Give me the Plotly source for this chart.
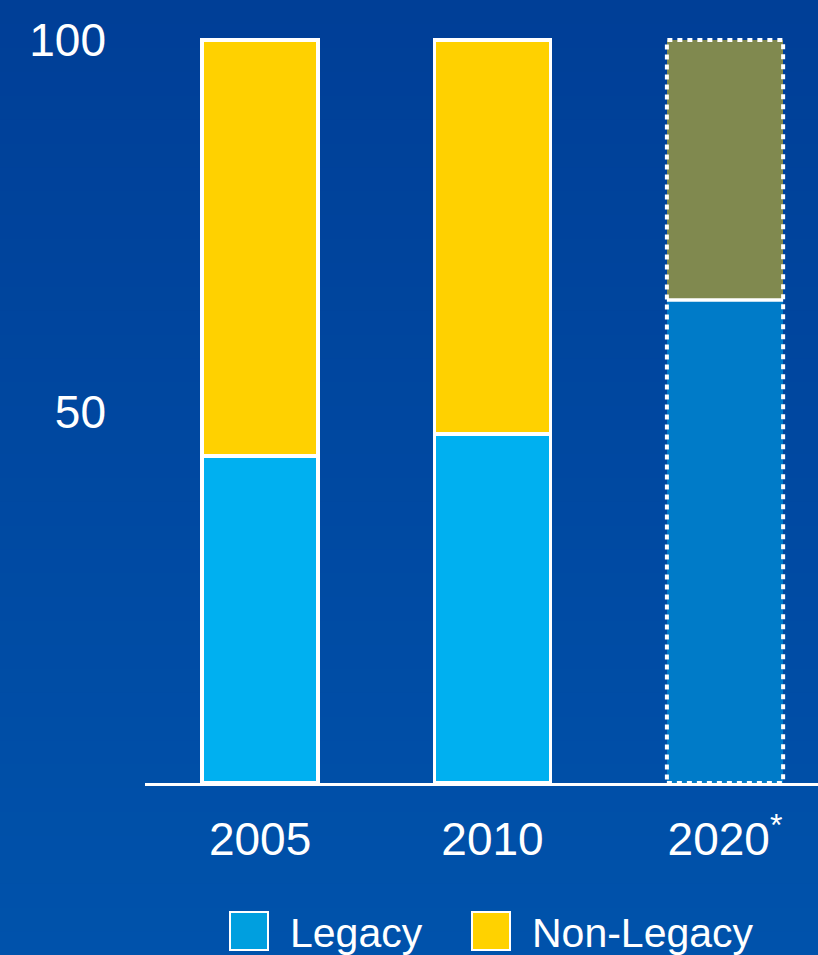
import plotly.graph_objects as go

# ---- data ----
years = ["2005", "2010", "2020"]
year_labels = ["2005", "2010", "2020<sup>*</sup>"]
legacy = [44, 47, 65]
non_legacy = [56, 53, 35]
y_ticks = [50, 100]

# ---- styling ----
W, H = 818, 955
ML, MR, MT, MB = 145, 0, 30, 172
FONT = "Liberation Sans, Arial, sans-serif"
legacy_colors = ["#00b0f0", "#00b0f0", "#007bc8"]
non_legacy_colors = ["#ffd100", "#ffd100", "#80894f"]
line_widths = [3.5, 3.5, 0]
projected = 2  # index of the projected bar

plot_w = W - ML - MR
plot_h = H - MT - MB


def px_x(px):
    return (px - ML) / plot_w


def px_y(py):
    return (H - MB - py) / plot_h


fig = go.Figure()
fig.add_trace(go.Bar(
    x=list(range(len(years))), y=legacy, name="Legacy",
    marker=dict(color=legacy_colors, line=dict(color="white", width=line_widths)),
))
fig.add_trace(go.Bar(
    x=list(range(len(years))), y=non_legacy, name="Non-Legacy",
    marker=dict(color=non_legacy_colors, line=dict(color="white", width=line_widths)),
))

shapes = []
# background gradient bands
top = (0x00, 0x3f, 0x97)
bot = (0x00, 0x52, 0xab)
n = 40
for i in range(n):
    t = i / (n - 1)
    c = tuple(round(top[k] + (bot[k] - top[k]) * t) for k in range(3))
    shapes.append(dict(type="rect", xref="paper", yref="paper",
                       x0=px_x(0), x1=px_x(W),
                       y0=px_y(H * (i + 1) / n + 1), y1=px_y(H * i / n),
                       fillcolor="rgb(%d,%d,%d)" % c, line=dict(width=0), layer="below"))

# projected bar: divider line and dotted outline
half = 0.25
total = legacy[projected] + non_legacy[projected]
shapes.append(dict(type="line", xref="x", yref="y",
                   x0=projected - half, x1=projected + half,
                   y0=legacy[projected], y1=legacy[projected],
                   line=dict(color="white", width=3.5)))
shapes.append(dict(type="rect", xref="x", yref="y",
                   x0=projected - half, x1=projected + half, y0=0, y1=total,
                   line=dict(color="white", width=4, dash="5px,5px")))

# custom legend
legend_items = [("Legacy", "#009fdf", 230), ("Non-Legacy", "#ffd200", 472)]
annotations = []
for label, col, x0 in legend_items:
    shapes.append(dict(type="rect", xref="paper", yref="paper",
                       x0=px_x(x0), x1=px_x(x0 + 38), y0=px_y(950), y1=px_y(912),
                       fillcolor=col, line=dict(color="white", width=2)))
    annotations.append(dict(xref="paper", yref="paper", x=px_x(x0 + 58), y=px_y(933),
                            xanchor="left", yanchor="middle", showarrow=False,
                            text=label, font=dict(family=FONT, size=41, color="white")))

fig.update_layout(
    width=W, height=H,
    margin=dict(l=ML, r=MR, t=MT, b=MB),
    paper_bgcolor="#0047a0", plot_bgcolor="rgba(0,0,0,0)",
    barmode="stack", bargap=0.5, showlegend=False,
    shapes=shapes, annotations=annotations,
    font=dict(family=FONT, color="white"),
    xaxis=dict(range=[-0.495, 2.4], tickvals=list(range(len(years))), ticktext=year_labels,
               showline=True, linecolor="white", linewidth=3, showgrid=False,
               zeroline=False, ticks="", tickfont=dict(size=46, color="white"),
               ticklabelstandoff=14, fixedrange=True),
    yaxis=dict(range=[0, plot_h / 7.43], tickvals=y_ticks, showgrid=False, zeroline=False,
               showline=False, ticks="", tickfont=dict(size=46, color="white"),
               ticklabelstandoff=38, fixedrange=True),
)

fig.write_html("out.html")
